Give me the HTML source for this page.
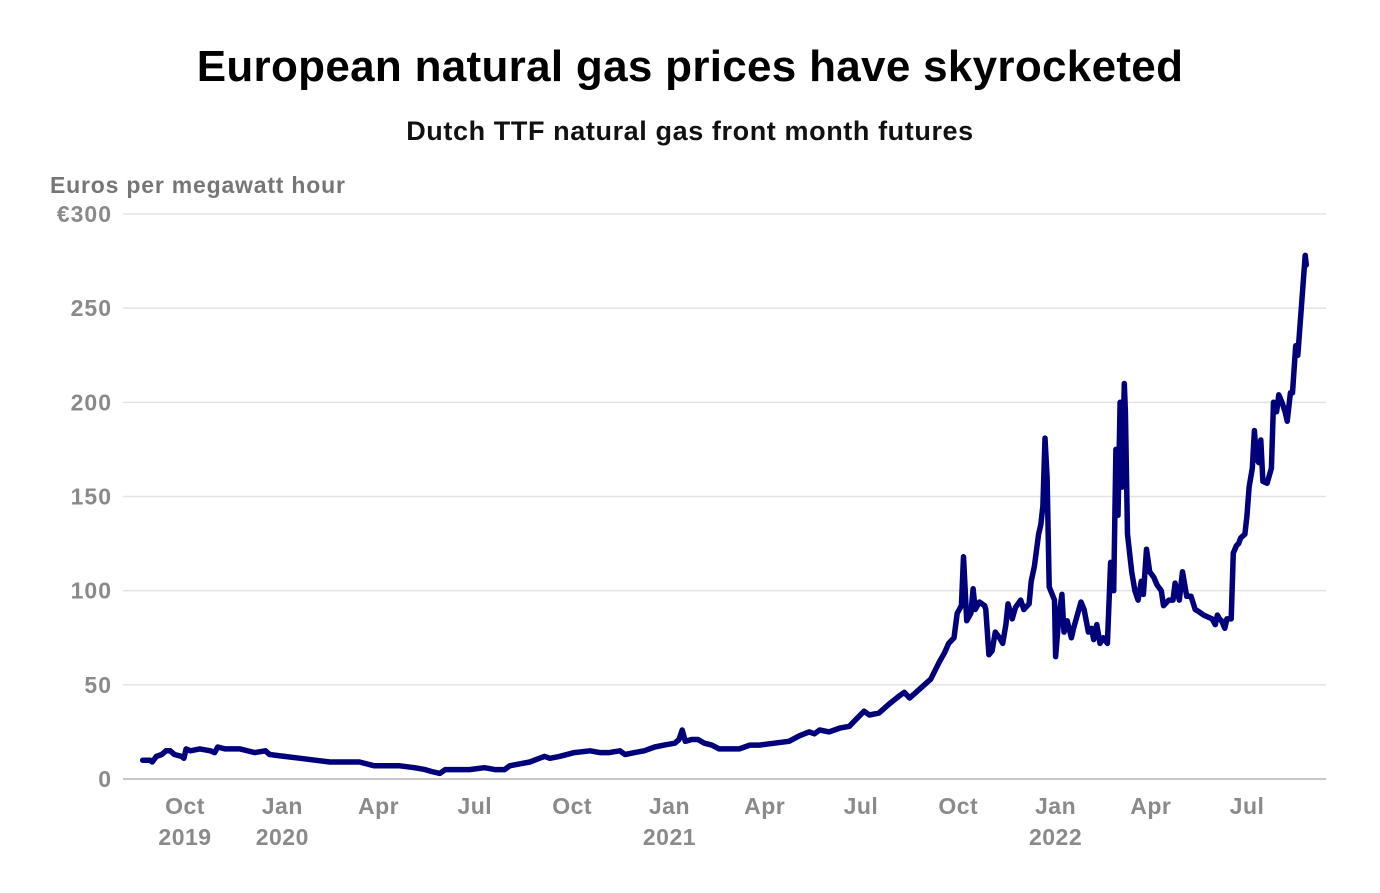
<!DOCTYPE html>
<html><head><meta charset="utf-8"><style>
html,body{margin:0;padding:0;background:#fff;}
body{width:1380px;height:888px;overflow:hidden;font-family:"Liberation Sans",sans-serif;}
</style></head><body>
<svg id="chart" width="1380" height="888" xmlns="http://www.w3.org/2000/svg">
<text x="690" y="81" text-anchor="middle" font-size="44" font-weight="bold" fill="#000" letter-spacing="0.3">European natural gas prices have skyrocketed</text>
<text x="690" y="140" text-anchor="middle" font-size="27" font-weight="bold" fill="#111" letter-spacing="0.6">Dutch TTF natural gas front month futures</text>
<text x="50" y="193" font-size="23" font-weight="bold" fill="#767676" letter-spacing="0.8">Euros per megawatt hour</text>
<g id="grid"></g><g id="xaxis"></g>
<path id="line" fill="none" stroke="#00007a" stroke-width="5.5" stroke-linejoin="round" stroke-linecap="round"/>
</svg>
<script>
const yTicks=[0,50,100,150,200,250,300];
const yTickLabels=["0","50","100","150","200","250","€300"];
const xTickDays=[0,92,183,274,366,458,548,639,731,823,913,1004];
const xTickMonths=["Oct","Jan","Apr","Jul","Oct","Jan","Apr","Jul","Oct","Jan","Apr","Jul"];
const xTickYears=["2019","2020","","","","2021","","","","2022","",""];
const days=[-40,-33,-31,-27,-22,-18,-14,-10,-3,-1,1,5,14,24,28,31,38,52,66,76,80,94,109,123,137,156,165,179,189,203,217,227,233,241,246,255,269,283,293,302,307,316,326,335,340,345,354,368,383,392,401,411,416,425,434,444,453,463,467,470,473,479,485,491,498,505,524,534,543,557,571,581,590,595,600,609,619,628,635,642,647,656,666,675,680,685,689,699,705,713,718,722,727,730,734,736,738,739,743,745,747,751,756,757,760,763,766,770,773,776,778,782,785,790,793,798,800,803,807,809,811,813,815,817,822,823,826,829,831,834,838,840,847,850,854,857,859,862,865,868,872,875,878,880,882,884,886,888,889,891,893,895,898,901,904,906,909,912,916,919,923,925,930,934,936,940,943,947,951,955,958,963,967,971,974,976,978,980,983,985,989,991,994,996,998,1002,1004,1006,1009,1011,1013,1015,1017,1019,1023,1027,1029,1032,1034,1037,1040,1042,1045,1047,1050,1052,1056,1059,1060];
const prices=[10,10,9,12,13,15,15,13,12,11,16,15,16,15,14,17,16,16,14,15,13,12,11,10,9,9,9,7,7,7,6,5,4,3,5,5,5,6,5,5,7,8,9,11,12,11,12,14,15,14,14,15,13,14,15,17,18,19,21,26,20,21,21,19,18,16,16,18,18,19,20,23,25,24,26,25,27,28,32,36,34,35,40,44,46,43,45,50,53,62,67,72,75,88,92,118,95,84,88,101,90,94,92,90,66,68,78,75,72,82,93,85,91,95,90,93,105,113,130,135,145,181,160,102,95,65,85,98,78,84,75,80,94,90,78,80,74,82,72,75,72,115,100,175,140,200,155,210,195,130,120,110,100,95,105,98,122,110,107,103,100,92,95,95,104,95,110,97,97,90,89,87,86,85,82,87,85,84,80,85,85,120,124,125,128,130,140,155,165,185,170,168,180,158,157,165,200,195,204,200,195,190,205,205,230,225,255,278,273];
const X0=185,PXD=1.0578,Y0=779,PXV=565/300,LEFT=123,RIGHT=1326;
const xs=d=>X0+d*PXD, ys=v=>Y0-v*PXV;
const NS="http://www.w3.org/2000/svg";
const grid=document.getElementById('grid');
yTicks.forEach((t,i)=>{
  const l=document.createElementNS(NS,'line');
  l.setAttribute('x1',LEFT);l.setAttribute('x2',RIGHT);
  l.setAttribute('y1',ys(t));l.setAttribute('y2',ys(t));
  l.setAttribute('stroke',t===0?'#c8c8c8':'#e3e3e3');l.setAttribute('stroke-width',t===0?2:1.5);
  
  
  grid.appendChild(l);
  const tx=document.createElementNS(NS,'text');
  tx.setAttribute('x',112);tx.setAttribute('y',ys(t)+8);tx.setAttribute('text-anchor','end');
  tx.setAttribute('font-size','23');tx.setAttribute('font-weight','bold');tx.setAttribute('fill','#8a8a8a');
  tx.setAttribute('letter-spacing','1');
  tx.textContent=yTickLabels[i];
  
  
  grid.appendChild(tx);
});
const xa=document.getElementById('xaxis');
xTickDays.forEach((d,i)=>{
  const t=document.createElementNS(NS,'text');
  t.setAttribute('x',xs(d));t.setAttribute('y',814);t.setAttribute('text-anchor','middle');
  t.setAttribute('font-size','23');t.setAttribute('font-weight','bold');t.setAttribute('fill','#8a8a8a');
  t.setAttribute('letter-spacing','0.5');
  t.textContent=xTickMonths[i];
  
  
  xa.appendChild(t);
  if(xTickYears[i]){
    const y=document.createElementNS(NS,'text');
    y.setAttribute('x',xs(d));y.setAttribute('y',845);y.setAttribute('text-anchor','middle');
    y.setAttribute('font-size','23');y.setAttribute('font-weight','bold');y.setAttribute('fill','#8a8a8a');
    y.setAttribute('letter-spacing','0.5');
    y.textContent=xTickYears[i];
    
    
    xa.appendChild(y);
  }
});
document.getElementById('line').setAttribute('d',days.map((d,i)=>(i?'L':'M')+xs(d).toFixed(1)+' '+ys(prices[i]).toFixed(1)).join(' '));
</script>
</body></html>
